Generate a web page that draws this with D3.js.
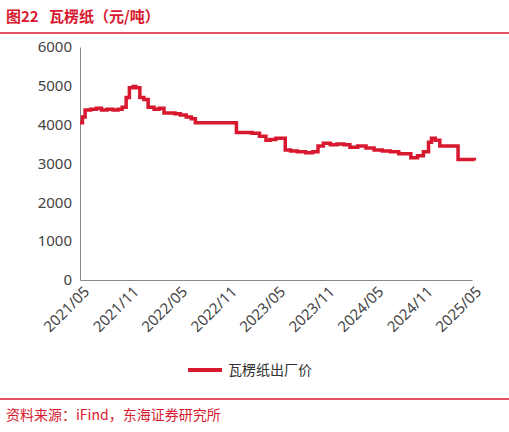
<!DOCTYPE html><html><head><meta charset="utf-8">
<script src="https://cdn.jsdelivr.net/npm/d3@7"></script>
<style>body{margin:0;background:#fff;font-family:"Noto Sans CJK SC","Noto Sans",sans-serif}</style></head><body>
<svg id="c" width="509" height="432"></svg>
<script>
const dates=["2021-05-01","2021-05-10","2021-05-20","2021-06-10","2021-07-01","2021-07-20","2021-08-10","2021-09-01","2021-09-20","2021-10-05","2021-10-20","2021-11-01","2021-11-15","2021-11-25","2021-12-10","2021-12-25","2022-01-10","2022-02-01","2022-02-20","2022-03-10","2022-04-01","2022-04-20","2022-05-10","2022-06-01","2022-06-20","2022-07-05","2022-08-01","2022-09-01","2022-10-01","2022-11-01","2022-11-20","2022-12-05","2023-01-01","2023-02-01","2023-03-01","2023-03-25","2023-04-10","2023-05-01","2023-05-20","2023-06-05","2023-06-25","2023-07-20","2023-08-20","2023-09-15","2023-10-05","2023-10-25","2023-11-20","2023-12-15","2024-01-10","2024-02-01","2024-03-01","2024-04-01","2024-05-01","2024-06-01","2024-07-01","2024-08-01","2024-08-25","2024-09-15","2024-10-10","2024-11-01","2024-11-20","2024-12-01","2024-12-15","2025-01-01","2025-02-01","2025-02-20","2025-03-10","2025-04-01","2025-04-20","2025-05-10"];
const values=[4050,4200,4380,4400,4420,4380,4400,4380,4400,4450,4700,4950,4980,4950,4700,4650,4450,4400,4420,4300,4300,4280,4250,4200,4150,4050,4050,4050,4050,4050,4050,3800,3800,3780,3700,3600,3620,3650,3650,3350,3320,3300,3280,3300,3450,3520,3480,3500,3480,3420,3450,3400,3350,3320,3300,3250,3250,3150,3200,3300,3550,3650,3600,3450,3450,3450,3100,3100,3100,3080];
const yTicks=[0,1000,2000,3000,4000,5000,6000];
const xTicks=["2021/05","2021/11","2022/05","2022/11","2023/05","2023/11","2024/05","2024/11","2025/05"];
const red="#d8182f";
const svg=d3.select("#c");
svg.append("text").attr("x",6).attr("y",22).attr("fill",red).attr("font-size",15).attr("font-weight","bold").attr("xml:space","preserve").style("white-space","pre").text("图22   瓦楞纸（元/吨）");
svg.append("line").attr("x1",0).attr("x2",509).attr("y1",33).attr("y2",33).attr("stroke",red).attr("stroke-width",1.5);
const pt=d3.timeParse("%Y-%m-%d"), pm=d3.timeParse("%Y/%m");
const x=d3.scaleTime().domain([pm("2021/05"),pm("2025/05")]).range([80,472]);
const y=d3.scaleLinear().domain([0,6000]).range([280,47]);
const ya=svg.append("g").attr("transform","translate(80,0)").call(d3.axisLeft(y).tickValues(yTicks).tickFormat(d3.format("d")).tickSize(0).tickPadding(8));
ya.selectAll("text").attr("font-size",15).attr("fill","#444").attr("font-family","Noto Sans");
ya.select(".domain").attr("stroke","#888");
const xa=svg.append("g").attr("transform","translate(0,280)").call(d3.axisBottom(x).tickValues(xTicks.map(pm)).tickFormat(d3.timeFormat("%Y/%m")).tickSize(0).tickPadding(6));
xa.select(".domain").attr("stroke","#888");
xa.selectAll("text").attr("font-size",15).attr("fill","#444").attr("font-family","Noto Sans").attr("text-anchor","end").attr("transform","rotate(-45)").attr("dx","-2").attr("dy","10");
svg.append("path").datum(dates.map((d,i)=>[pt(d),values[i]])).attr("fill","none").attr("stroke",red).attr("stroke-width",3.5)
 .attr("d",d3.line().x(d=>x(d[0])).y(d=>y(d[1])).curve(d3.curveStepAfter));
svg.append("line").attr("x1",188).attr("x2",222).attr("y1",370).attr("y2",370).attr("stroke",red).attr("stroke-width",4);
svg.append("text").attr("x",228).attr("y",375).attr("font-size",14).attr("fill","#333").text("瓦楞纸出厂价");
svg.append("line").attr("x1",0).attr("x2",509).attr("y1",399).attr("y2",399).attr("stroke",red).attr("stroke-width",1.5);
svg.append("text").attr("x",6).attr("y",420).attr("fill",red).attr("font-size",14).text("资料来源：iFind，东海证券研究所");
</script></body></html>
